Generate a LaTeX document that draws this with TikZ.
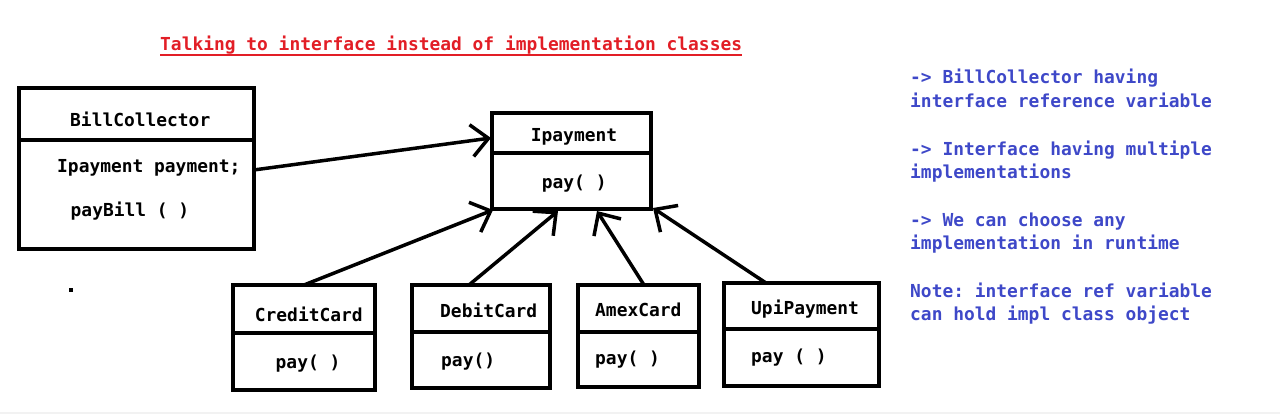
\documentclass[tikz,border=0pt]{standalone}
\usepackage{fontspec}
\setmonofont{DejaVu Sans Mono}
\usetikzlibrary{arrows.meta}
\definecolor{titlered}{RGB}{226,30,38}
\definecolor{noteblue}{RGB}{62,72,200}

\begin{document}
\begin{tikzpicture}
[x=1pt,y=-1pt,%
  boxdecorate/.style={shape=rectangle,draw,line width=4pt,inner sep=0pt,outer sep=0pt},%
  textdecorate/.style={font=\ttfamily\bfseries\fontsize{17.9}{24}\selectfont,inner sep=0pt,anchor=base west},%
  notedecorate/.style={textdecorate,text=noteblue},%
  linedecorate/.style={-{Straight Barb[length=17pt,width=32pt]},line width=3.5pt}]
\useasboundingbox (0,0) rectangle (1280,414);
\fill[black!5] (0,411.5) rectangle (1280,414);
%% title
\node (title) at (160,51) [textdecorate,text=titlered] {Talking to interface instead of implementation classes};
\draw[titlered,line width=2pt] ([yshift=-4pt]title.base west) -- ([yshift=-4pt]title.base east);
%% classes: header box, body box, name, method
\foreach \nodename/\l/\r/\t/\m/\b/\title/\tx/\ty/\method/\mx/\my in {
  bc/18.7/253.6/88.3/140/249/BillCollector/70/127/Ipayment payment;/57/173,
  ip/492/651/113/153/209/Ipayment/530.7/141.7/pay( )/541.7/189,
  cc/233/375/285/333/390/CreditCard/254.7/321/pay( )/275.5/368,
  dc/412/550/285/331.7/387.7/DebitCard/440/317/pay()/441/366,
  ac/578/699/285/331.7/386.7/AmexCard/595/316/pay( )/595/364,
  up/724/879/283/329/386/UpiPayment/751/314/pay ( )/751/362}
{
  \node (\nodename) at ({(\l+\r)/2},{(\t+\m)/2}) [boxdecorate,minimum width=\r-\l,minimum height=\m-\t] {};
  \node (\nodename b) at ({(\l+\r)/2},{(\m+\b)/2}) [boxdecorate,minimum width=\r-\l,minimum height=\b-\m] {};
  \node (\nodename t) at (\tx,\ty) [textdecorate] {\title};
  \node (\nodename m) at (\mx,\my) [textdecorate] {\method};
}
\node (bcp) at (70.5,217) [textdecorate] {payBill ( )};
\node (dot) at (71,290) [rectangle,fill,inner sep=0pt,minimum size=4pt] {};
%% notes
\foreach \nodename/\y/\txt in {n1/84/{-> BillCollector having}, n2/107.3/{interface reference variable},
  n3/156/{-> Interface having multiple}, n4/178.3/{implementations},
  n5/226.7/{-> We can choose any}, n6/250/{implementation in runtime},
  n7/297.3/{Note: interface ref variable}, n8/320.7/{can hold impl class object}}
{
  \node (\nodename) at (910,\y) [notedecorate] {\txt};
}
%% arrows
\path
\foreach \startnode/\sx/\sy/\endnode/\ex/\ey in {bcb.east/0/24.5/ip.west/-1/-5,
  cc.north/0/0/ipb.south west/1/-1, dc.north/-12/0/ipb.south west/66/-2,
  ac.north/5.5/0/ipb.south west/105/-2, up.north/-35.5/0/ipb.south east/2/1} {
  ([xshift=\sx pt,yshift=\sy pt]\startnode) edge[linedecorate] ([xshift=\ex pt,yshift=\ey pt]\endnode)
};
\end{tikzpicture}
\end{document}
